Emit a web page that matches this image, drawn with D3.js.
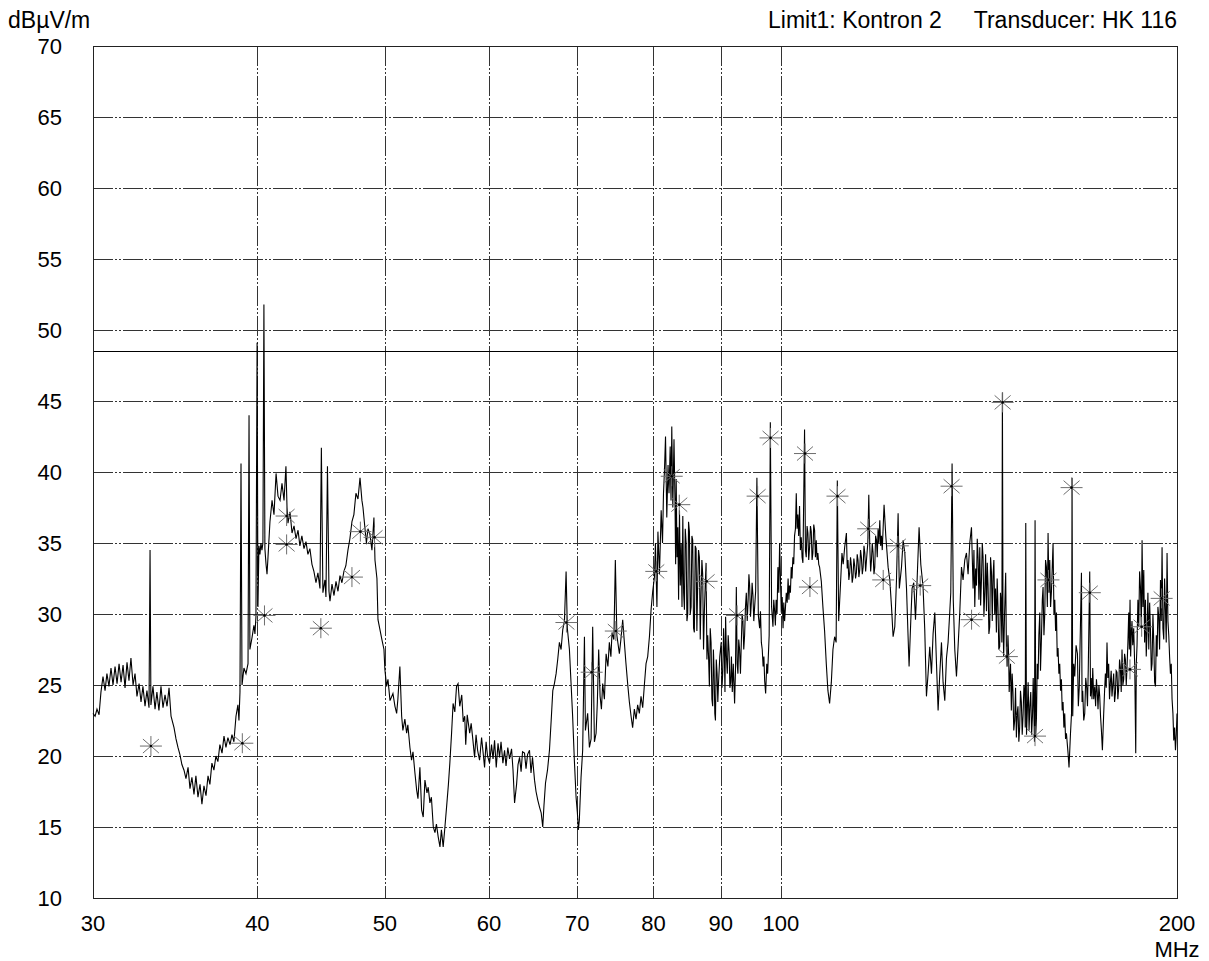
<!DOCTYPE html>
<html><head><meta charset="utf-8">
<script src="https://cdn.jsdelivr.net/npm/d3@7"></script>
<style>
body{margin:0;background:#fff}
svg{display:block}
text{font-family:"Liberation Sans",Arial,sans-serif;fill:#000}
</style>
</head><body>
<svg id="chart" width="1209" height="961"></svg>
<script>
// ---- data ----
const xTickValues = [30,40,50,60,70,80,90,100,200];
const xGridValues = [40,50,60,70,80,90,100];
const yTickValues = [10,15,20,25,30,35,40,45,50,55,60,65,70];
const yUnit = "dBµV/m";
const xUnit = "MHz";
const headerLimit = "Limit1: Kontron 2";
const headerTransducer = "Transducer: HK 116";
const limitLevel = 48.5;

// measured trace [MHz, dBµV/m]
const trace = [
[30.00,23.0],[30.11,22.8],[30.21,23.3],[30.32,22.9],[30.42,24.5],[30.53,25.6],[30.64,24.6],[30.74,25.8],[30.85,24.9],[30.96,26.2],[31.07,25.0],[31.18,26.3],[31.29,25.1],[31.40,26.5],[31.51,25.2],[31.62,26.4],[31.73,24.8],[31.84,26.6],[31.95,25.3],[32.06,26.9],[32.18,25.0],[32.29,25.8],[32.40,24.2],[32.52,25.1],[32.63,23.8],[32.74,24.9],[32.86,23.5],[32.97,24.6],[33.09,23.4],[33.15,34.5],[33.20,23.6],[33.32,24.9],[33.44,23.3],[33.55,24.5],[33.67,23.2],[33.79,24.9],[33.91,23.4],[34.03,24.3],[34.15,23.5],[34.27,24.8],[34.39,22.8],[34.57,22.0],[34.69,21.2],[34.81,20.6],[34.93,20.1],[35.05,19.4],[35.18,19.0],[35.30,18.4],[35.43,19.2],[35.55,17.7],[35.67,18.5],[35.80,17.3],[35.92,18.6],[36.05,17.1],[36.18,18.0],[36.30,16.6],[36.43,17.9],[36.56,17.2],[36.69,18.6],[36.81,18.0],[36.94,19.5],[37.07,19.0],[37.20,20.0],[37.33,19.6],[37.46,20.8],[37.60,20.2],[37.73,21.4],[37.86,20.6],[37.99,21.3],[38.13,20.8],[38.26,21.5],[38.39,21.0],[38.53,22.8],[38.66,23.6],[38.73,22.5],[38.80,24.5],[38.87,40.6],[38.94,25.0],[39.07,26.2],[39.21,25.8],[39.35,26.5],[39.42,44.0],[39.48,27.5],[39.62,28.3],[39.76,29.2],[39.83,28.6],[39.90,29.8],[39.98,49.1],[40.04,30.5],[40.11,34.8],[40.18,34.2],[40.25,35.0],[40.32,34.5],[40.39,35.0],[40.46,51.8],[40.53,34.6],[40.61,33.5],[40.68,32.8],[40.75,34.0],[40.89,36.5],[41.04,38.0],[41.18,37.0],[41.33,39.9],[41.47,38.3],[41.62,38.0],[41.76,39.2],[41.91,38.0],[42.05,40.4],[42.13,37.5],[42.20,36.4],[42.35,37.2],[42.50,35.7],[42.65,36.2],[42.80,35.3],[42.95,35.9],[43.09,34.8],[43.24,35.5],[43.40,34.6],[43.55,35.1],[43.70,34.2],[43.85,34.6],[44.01,33.5],[44.16,33.0],[44.32,32.2],[44.47,32.9],[44.63,31.8],[44.74,41.7],[44.86,31.5],[45.02,32.4],[45.10,31.2],[45.22,40.4],[45.34,31.6],[45.42,30.9],[45.58,32.1],[45.74,31.3],[45.90,32.3],[46.06,31.6],[46.22,32.7],[46.38,32.2],[46.54,33.0],[46.70,33.4],[46.87,34.5],[47.03,35.3],[47.20,36.5],[47.36,37.0],[47.53,38.5],[47.70,38.1],[47.87,39.6],[48.03,38.0],[48.12,37.5],[48.29,36.0],[48.41,35.0],[48.54,36.0],[48.71,35.6],[48.88,34.5],[49.05,36.8],[49.14,33.8],[49.31,32.5],[49.40,29.6],[49.57,28.9],[49.74,28.2],[49.92,27.5],
[50.00,26.1],[50.15,24.9],[50.27,25.4],[50.45,23.9],[50.71,24.4],[50.89,23.5],[51.04,23.0],[51.15,24.0],[51.33,26.3],[51.49,22.8],[51.60,21.8],[51.78,22.6],[51.94,21.6],[52.05,22.2],[52.24,20.6],[52.39,19.7],[52.52,20.3],[52.70,18.8],[52.86,17.6],[52.98,17.0],[53.16,19.2],[53.32,16.2],[53.47,15.7],[53.63,18.3],[53.82,17.4],[53.94,17.8],[54.10,16.7],[54.24,17.1],[54.42,15.0],[54.58,14.6],[54.72,15.2],[54.89,14.3],[55.06,13.6],[55.20,14.8],[55.37,13.6],[55.54,15.0],[55.70,16.4],[55.88,18.0],[56.02,19.5],[56.19,21.6],[56.34,23.7],[56.51,23.1],[56.68,24.9],[56.83,25.1],[57.00,23.5],[57.20,24.3],[57.35,22.4],[57.50,22.8],[57.60,20.8],[57.75,22.9],[58.00,21.6],[58.15,22.3],[58.33,21.1],[58.50,19.9],[58.65,21.5],[58.81,20.4],[59.01,19.7],[59.22,21.3],[59.37,20.3],[59.53,19.2],[59.69,21.0],[59.84,20.0],[60.05,19.5],[60.26,20.8],[60.42,19.8],[60.58,21.1],[60.76,19.2],[60.95,20.9],[61.11,19.9],[61.27,21.0],[61.47,19.5],[61.65,20.4],[61.81,19.3],[62.00,20.6],[62.19,19.8],[62.41,20.5],[62.57,19.0],[62.74,16.7],[62.96,18.0],[63.12,19.4],[63.29,19.9],[63.46,18.9],[63.62,20.3],[63.84,20.2],[64.01,19.1],[64.18,20.1],[64.40,20.4],[64.57,18.8],[64.74,19.9],[64.97,18.3],[65.14,17.5],[65.34,16.9],[65.54,16.4],[65.73,16.0],[65.91,15.0],[66.05,16.5],[66.23,18.1],[66.46,19.0],[66.69,20.4],[66.89,22.5],[67.08,24.6],[67.27,25.1],[67.47,25.8],[67.66,26.8],[67.86,28.0],[68.06,27.5],[68.26,28.9],[68.46,29.5],[68.66,33.0],[68.81,29.0],[69.06,27.5],[69.26,25.1],[69.45,22.8],[69.66,19.7],[69.87,17.1],
[70.03,16.0],[70.15,14.8],[70.27,15.5],[70.48,18.5],[70.68,20.4],[70.90,28.4],[71.02,21.8],[71.30,23.0],[71.52,20.6],[71.73,21.2],[71.93,29.1],[72.15,21.0],[72.36,21.6],[72.52,23.8],[72.69,27.5],[72.87,24.2],[73.04,23.3],[73.20,25.1],[73.42,24.0],[73.64,27.2],[73.87,26.3],[74.06,28.0],[74.26,27.0],[74.41,28.7],[74.65,28.2],[74.84,33.8],[75.04,28.5],[75.37,27.2],[75.57,28.2],[75.81,29.6],[76.03,28.0],[76.23,26.6],[76.47,25.1],[76.70,23.8],[76.93,22.8],[77.14,22.0],[77.37,23.3],[77.60,22.6],[77.82,23.6],[78.05,23.0],[78.28,24.2],[78.51,23.4],[78.74,25.0],[78.97,26.5],[79.20,27.0],[79.44,28.4],[79.67,30.3],[79.90,31.6],
[80.14,32.6],[80.28,35.0],[80.49,30.5],[80.63,35.8],[80.85,32.8],[81.09,37.3],[81.28,35.0],[81.42,38.5],[81.56,40.1],[81.71,42.5],[81.89,36.8],[82.07,40.5],[82.21,38.5],[82.38,41.8],[82.50,38.0],[82.61,43.2],[82.76,37.5],[82.93,42.3],[83.08,37.8],[83.17,33.5],[83.25,39.5],[83.37,34.0],[83.49,36.1],[83.60,31.0],[83.73,37.3],[83.85,32.0],[83.98,35.0],[84.10,30.5],[84.22,36.9],[84.34,31.5],[84.46,30.3],[84.58,36.0],[84.71,35.0],[84.83,29.5],[84.95,30.0],[85.07,36.5],[85.20,35.8],[85.32,30.0],[85.45,30.5],[85.57,35.5],[85.69,35.2],[85.82,29.0],[85.94,28.7],[86.07,34.8],[86.20,34.6],[86.32,28.8],[86.44,32.1],[86.57,34.5],[86.70,34.0],[86.83,28.2],[86.96,31.5],[87.08,33.8],[87.20,32.8],[87.33,27.5],[87.46,30.2],[87.59,32.0],[87.72,33.6],[87.85,26.8],[87.97,28.5],[88.10,27.0],[88.23,24.9],[88.36,29.0],[88.49,28.0],[88.62,24.0],[88.74,23.5],[88.85,27.5],[88.96,26.0],[89.07,23.0],[89.17,22.5],[89.30,26.8],[89.43,25.8],[89.54,23.8],[89.64,25.0],[89.85,27.0],
[90.07,28.0],[90.20,24.8],[90.33,26.0],[90.45,29.0],[90.56,27.5],[90.67,24.5],[90.77,29.8],[90.90,27.0],[91.04,25.8],[91.18,28.5],[91.33,27.3],[91.45,24.8],[91.57,25.2],[91.70,27.0],[91.84,24.5],[92.0,26.5],[92.21,23.7],[92.35,26.0],[92.49,31.9],[92.62,26.5],[92.75,25.8],[92.88,28.2],[93.02,27.5],[93.16,25.8],[93.30,28.0],[93.43,30.0],[93.56,29.5],[93.70,27.5],[93.84,28.5],[93.98,30.5],[94.12,31.5],[94.27,29.5],[94.42,31.0],[94.55,32.8],[94.67,32.0],[94.81,29.8],[94.95,30.8],[95.08,32.2],[95.22,31.3],[95.36,29.5],[95.50,30.5],[95.67,31.6],[95.88,39.6],[96.12,29.9],[96.34,29.0],[96.48,30.2],[96.63,28.0],[96.78,27.5],[96.93,26.3],[97.06,27.0],[97.19,25.3],[97.36,24.4],[97.55,26.5],[97.70,25.8],[97.96,28.5],[98.16,43.5],[98.38,30.5],[98.61,29.1],[98.75,31.0],[98.90,30.2],[99.03,29.2],[99.16,31.0],[99.32,30.0],[99.47,33.3],[99.62,31.5],[99.77,35.0],
[100.06,30.1],[100.22,31.2],[100.37,29.0],[100.50,30.8],[100.64,29.5],[100.80,30.5],[100.94,31.5],[101.10,30.8],[101.26,32.5],[101.40,31.0],[101.52,32.0],[101.67,31.5],[101.82,33.3],[101.96,32.5],[102.11,34.0],[102.26,33.5],[102.41,35.5],[102.57,36.0],[102.72,38.5],[102.86,36.0],[103.00,37.0],[103.15,35.5],[103.31,37.6],[103.46,34.5],[103.62,35.4],[103.77,34.0],[103.92,33.6],[104.22,43.0],[104.38,34.5],[104.53,34.0],[104.68,36.2],[104.83,35.7],[104.98,33.8],[105.14,34.7],[105.30,36.2],[105.45,35.8],[105.60,33.8],[105.75,34.3],[105.91,36.3],[106.07,35.9],[106.22,34.0],[106.38,35.2],[106.53,33.8],[106.68,34.3],[106.84,33.5],[107.00,33.3],[107.32,32.3],[107.62,30.5],[107.94,28.8],[108.26,26.5],[108.57,24.6],[108.89,23.7],[109.22,25.2],[109.53,27.5],[109.85,28.4],[110.14,28.0],[110.37,39.4],[110.63,29.5],[110.96,31.9],[111.27,34.3],[111.51,33.5],[111.80,34.7],[112.14,35.7],[112.30,33.2],[112.45,33.8],[112.62,32.4],[112.79,32.9],[112.95,34.0],[113.12,33.4],[113.28,32.2],[113.44,32.6],[113.61,33.9],[113.78,33.4],[113.95,32.5],[114.12,32.9],[114.28,34.2],[114.44,33.8],[114.61,32.6],[114.78,33.1],[114.95,34.5],[115.12,34.0],[115.30,32.8],[115.47,33.3],[115.64,34.8],[115.81,34.3],[115.98,33.0],[116.15,33.8],[116.42,35.0],[116.62,38.4],[116.82,34.8],[117.00,33.0],[117.17,33.8],[117.33,35.0],[117.50,34.3],[117.68,32.8],[117.85,33.3],[118.02,35.5],[118.20,35.2],[118.36,34.0],[118.53,36.0],[118.70,35.0],[118.89,36.6],[119.06,34.8],[119.24,35.5],[119.40,34.5],[119.78,37.7],
[120.14,35.5],[120.63,33.3],[120.99,32.4],[121.35,30.5],[121.69,28.4],[122.05,29.1],[122.41,32.4],[122.76,37.1],[123.02,31.8],[123.49,33.3],[123.84,35.2],[124.21,34.3],[124.58,31.8],[124.86,29.0],[125.14,26.3],[125.52,29.6],[125.80,31.8],[126.17,32.2],[126.55,29.6],[126.90,32.3],[127.35,36.1],[127.73,33.5],[128.24,31.9],[128.62,28.9],[129.00,24.2],[129.37,25.8],[129.75,27.7],[130.14,25.8],[130.51,28.6],[130.90,30.1],[131.29,26.5],[131.66,23.2],[132.05,25.8],[132.44,28.0],[132.81,25.2],[133.21,23.9],[133.60,26.9],[133.98,28.0],[134.37,30.1],[134.61,31.5],[134.92,40.6],[135.20,31.0],[135.56,27.5],[135.96,25.6],[136.34,27.7],[136.75,30.1],[137.16,33.3],[137.54,32.4],[137.95,33.8],[138.36,34.3],[138.75,32.8],[139.16,35.0],[139.58,36.1],
[139.97,31.8],[140.18,34.5],[140.39,30.5],[140.60,33.2],[140.81,32.0],[141.00,35.3],[141.20,34.0],[141.41,31.0],[141.62,34.7],[141.83,30.6],[142.04,32.4],[142.24,35.0],[142.44,34.0],[142.65,29.8],[142.86,31.5],[143.07,34.2],[143.29,30.2],[143.49,33.6],[143.69,32.0],[143.90,28.6],[144.11,29.1],[144.32,34.0],[144.54,33.0],[144.75,29.5],[144.95,32.7],[145.16,33.8],[145.37,30.0],[145.58,31.8],[145.80,28.7],[146.00,32.5],[146.21,30.5],[146.42,27.5],[146.64,27.7],[146.84,31.5],[147.03,30.8],[147.20,28.0],[147.34,45.6],[147.50,29.5],[147.67,27.0],[147.90,30.0],[148.19,32.9],[148.38,27.5],[148.58,26.3],[148.78,28.5],[148.97,27.0],[149.10,24.5],[149.23,25.4],[149.45,26.5],[149.67,23.2],[149.88,25.8],[150.09,24.5],[150.30,21.8],[150.54,22.5],[150.77,24.8],[150.99,21.3],[151.20,23.0],[151.41,23.5],[151.64,21.0],[151.86,22.0],[152.08,24.6],[152.31,23.8],[152.54,21.5],[152.77,22.9],[153.00,25.0],[153.22,24.3],[153.35,22.0],[153.49,36.4],[153.69,21.5],[153.89,23.0],[154.13,25.2],[154.38,21.8],[154.60,23.5],[154.84,24.5],[155.07,21.5],[155.30,22.8],[155.50,25.5],[155.65,23.6],[155.85,21.0],[156.01,36.6],[156.20,21.5],[156.39,22.7],[156.60,26.5],[156.83,25.4],[157.05,28.5],[157.30,30.1],[157.50,26.0],[157.76,28.3],[158.00,31.0],[158.21,31.9],[158.45,28.5],[158.68,30.0],[158.90,33.8],[159.15,33.3],[159.40,30.5],[159.60,35.7],[159.85,31.5],
[160.07,33.8],[160.30,30.5],[160.55,31.6],[161.00,35.0],[161.25,30.0],[161.48,31.0],[161.72,28.8],[161.96,30.1],[162.18,27.0],[162.41,27.6],[162.65,25.8],[162.89,26.5],[163.13,24.6],[163.37,25.4],[163.60,23.2],[163.84,23.8],[164.08,22.0],[164.32,23.0],[164.56,21.2],[164.81,21.6],[165.28,20.2],[165.56,19.2],[165.97,21.5],[166.29,23.0],[166.44,39.6],[166.64,22.8],[166.93,26.5],[167.23,25.6],[167.62,27.8],[168.02,27.2],[168.28,23.5],[168.55,24.8],[169.20,32.9],[169.38,23.8],[169.58,24.6],[169.88,22.5],[170.18,23.0],[170.47,25.5],[170.77,24.8],[171.00,23.5],[171.22,26.0],[171.67,33.0],[171.90,24.2],[172.12,25.5],[172.35,24.0],[172.58,26.2],[172.88,24.0],[173.18,24.9],[173.45,23.5],[173.70,25.4],[173.95,24.5],[174.18,23.3],[174.45,25.0],[174.70,24.2],[174.95,22.8],[175.22,21.8],[175.52,20.4],[175.92,23.0],[176.18,24.5],[176.44,25.8],[176.70,24.8],[176.94,28.0],[177.20,25.5],[177.46,26.5],[177.72,24.0],[177.99,25.2],[178.24,26.0],[178.49,24.2],[178.75,25.0],[179.02,25.8],[179.30,23.8],[179.56,24.4],[179.80,26.0],
[180.06,25.9],[180.33,24.0],[180.60,24.8],[180.87,26.8],[181.14,26.2],[181.40,24.5],[181.65,27.5],[181.92,25.0],[182.20,25.4],[182.47,27.2],[182.74,26.8],[183.00,25.0],[183.26,26.3],[183.53,28.0],[183.80,30.1],[184.00,27.5],[184.22,31.0],[184.42,27.0],[184.61,28.5],[184.85,29.5],[185.09,27.8],[185.40,29.0],[185.74,26.3],[186.07,20.2],[186.25,26.5],[186.49,27.8],[186.77,31.0],[187.05,29.1],[187.33,33.0],[187.61,31.9],[187.90,29.0],[188.14,35.2],[188.42,30.5],[188.70,33.1],[188.98,28.0],[189.26,31.0],[189.52,27.0],[189.79,28.7],[190.07,31.5],[190.36,27.5],[190.65,30.8],[190.93,28.8],[191.20,26.0],[191.46,26.5],[191.75,30.0],[192.03,28.0],[192.32,25.2],[192.61,24.9],[192.88,28.5],[193.15,27.0],[193.43,30.5],[193.72,29.8],[194.00,27.5],[194.30,32.4],[194.57,29.5],[194.84,34.7],[195.13,29.0],[195.42,28.2],[195.70,32.5],[196.00,30.3],[196.27,28.0],[196.55,34.3],[196.85,29.5],[197.14,28.5],[197.42,27.0],[197.72,25.8],[198.00,26.5],[198.28,24.0],[198.58,23.0],[198.87,21.1],[199.16,22.0],[199.46,20.4],[199.75,21.5],[200.00,23.0]
];

// peak markers [MHz, dBµV/m]
const markers = [
[33.2,20.7],[38.96,20.9],[40.5,29.9],[42.1,36.9],[42.1,34.9],[44.7,29.0],[47.2,32.6],[47.9,35.8],[49.1,35.4],
[68.7,29.4],[71.8,25.9],[74.9,28.8],[80.4,33.0],[82.6,39.7],[83.7,37.7],[87.8,32.3],[92.6,29.9],[96.0,38.3],[98.2,42.4],
[104.3,41.3],[105.2,31.9],[110.4,38.3],[116.5,36.0],[119.6,32.4],[122.7,34.8],[127.6,32.0],[134.8,39.0],[139.6,29.6],
[147.4,44.9],[148.5,27.0],[156.0,21.4],[159.7,32.4],[166.3,38.9],[171.7,31.5],[184.2,26.1],[188.0,29.1],[194.7,31.1]
];

// ---- drawing ----
const svg = d3.select("#chart");
const x = d3.scaleLog().domain([30,200]).range([93,1177]);
const y = d3.scaleLinear().domain([10,70]).range([898,46]);
const gridDash = "20,2,2,2,2,2";

// horizontal grid
svg.append("g").selectAll("line")
  .data(yTickValues.filter(v => v > 10 && v < 70))
  .join("line")
  .attr("x1", x(30)).attr("x2", x(200))
  .attr("y1", d => Math.round(y(d)) + 0.5).attr("y2", d => Math.round(y(d)) + 0.5)
  .attr("stroke", "#333").attr("stroke-width", 1).attr("stroke-dasharray", gridDash);

// vertical grid
svg.append("g").selectAll("line")
  .data(xGridValues)
  .join("line")
  .attr("x1", d => Math.round(x(d)) + 0.5).attr("x2", d => Math.round(x(d)) + 0.5)
  .attr("y1", y(70)).attr("y2", y(10))
  .attr("stroke", "#333").attr("stroke-width", 1).attr("stroke-dasharray", gridDash);

// limit line
svg.append("line")
  .attr("x1", x(30)).attr("x2", x(200))
  .attr("y1", Math.round(y(limitLevel)) + 0.5).attr("y2", Math.round(y(limitLevel)) + 0.5)
  .attr("stroke", "#000").attr("stroke-width", 1);

// frame
svg.append("rect")
  .attr("x", x(30) + 0.5).attr("y", y(70) + 0.5)
  .attr("width", x(200) - x(30)).attr("height", y(10) - y(70))
  .attr("fill", "none").attr("stroke", "#222").attr("stroke-width", 1);

// trace
const line = d3.line().x(d => x(d[0])).y(d => y(d[1]));
svg.append("path")
  .datum(trace)
  .attr("d", line)
  .attr("fill", "none").attr("stroke", "#000").attr("stroke-width", 1.1)
  .attr("stroke-linejoin", "miter");

// markers
const mk = svg.append("g").selectAll("g")
  .data(markers).join("g")
  .attr("transform", d => `translate(${x(d[0])},${y(d[1])})`);
mk.append("path")
  .attr("d", "M-11,0H11M0,-10V10M-8,-7L8,7M-8,7L8,-7")
  .attr("stroke", "#6e6e6e").attr("stroke-width", 1).attr("fill", "none");
mk.append("circle").attr("r", 1.3).attr("fill", "#000");

// y labels
svg.append("g").selectAll("text")
  .data(yTickValues).join("text")
  .attr("x", 62).attr("y", d => y(d)).attr("dy", "0.36em")
  .attr("text-anchor", "end").attr("font-size", 22)
  .text(d => d);

// x labels
svg.append("g").selectAll("text")
  .data(xTickValues).join("text")
  .attr("x", d => x(d)).attr("y", 931)
  .attr("text-anchor", "middle").attr("font-size", 22)
  .text(d => d);
svg.append("text").attr("x", x(200)).attr("y", 957)
  .attr("text-anchor", "middle").attr("font-size", 22).text(xUnit);

// header
svg.append("text").attr("x", 8).attr("y", 28).attr("font-size", 23).text(yUnit);
svg.append("text").attr("x", 768).attr("y", 28).attr("font-size", 23).text(headerLimit);
svg.append("text").attr("x", 1177).attr("y", 28).attr("text-anchor", "end").attr("font-size", 23).text(headerTransducer);
</script>
</body></html>
